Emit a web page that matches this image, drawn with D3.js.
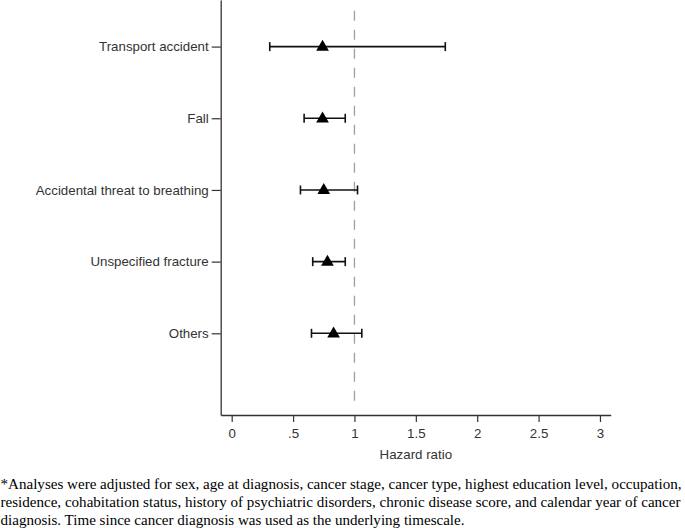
<!DOCTYPE html>
<html><head><meta charset="utf-8">
<script src="https://cdn.jsdelivr.net/npm/d3@7"></script>
<style>body{margin:0;background:#fff}svg{display:block}</style>
</head><body>
<svg id="c" width="685" height="528"></svg>
<script>
const categories = ["Transport accident","Fall","Accidental threat to breathing","Unspecified fracture","Others"];
const hr    = [0.74, 0.74, 0.75, 0.78, 0.83];
const lower = [0.31, 0.59, 0.56, 0.66, 0.65];
const upper = [1.74, 0.925, 1.025, 0.925, 1.06];
const xTicks = [0, 0.5, 1, 1.5, 2, 2.5, 3];
const xTickLabels = ["0", ".5", "1", "1.5", "2", "2.5", "3"];
const refLine = 1;
const xTitle = "Hazard ratio";
const footnote = [
 "*Analyses were adjusted for sex, age at diagnosis, cancer stage, cancer type, highest education level, occupation,",
 "residence, cohabitation status, history of psychiatric disorders, chronic disease score, and calendar year of cancer",
 "diagnosis. Time since cancer diagnosis was used as the underlying timescale."
];

const svg = d3.select("#c");
const axisColor = "#333";
const sans = "Liberation Sans, Arial, sans-serif";
const x = d3.scaleLinear().domain([-0.0896, 3.0875]).range([220.7, 610.7]);
const y = d3.scaleLinear().domain([0.35, 6.14]).range([0, 415]);
const rows = categories.map((c,i)=>({c, i:i+1, hr:hr[i], lo:lower[i], hi:upper[i]}));

// reference line
svg.append("line")
  .attr("x1", x(refLine)).attr("x2", x(refLine))
  .attr("y1", y(0.5)).attr("y2", y(6.0))
  .attr("stroke", "#a0a0a0").attr("stroke-width", 1.3)
  .attr("stroke-dasharray", "10,9");

// x axis
const xAxis = d3.axisBottom(x).tickValues(xTicks)
  .tickFormat((d,i)=>xTickLabels[i]).tickSizeInner(7).tickSizeOuter(0).tickPadding(7);
const gx = svg.append("g").attr("transform", `translate(0,${y(6.14)})`).call(xAxis);
gx.select(".domain").attr("stroke", axisColor).attr("stroke-width", 1.3);
gx.selectAll(".tick line").attr("stroke", axisColor).attr("stroke-width", 1.2);
gx.selectAll(".tick text").attr("fill", "#333").style("font-family", sans).style("font-size", "13.3px");

// y axis
const yAxis = d3.axisLeft(y).tickValues(rows.map(r=>r.i))
  .tickFormat(d=>categories[d-1]).tickSizeInner(9).tickSizeOuter(0).tickPadding(3);
const gy = svg.append("g").attr("transform", `translate(${x(-0.0896)},0)`).call(yAxis);
gy.select(".domain").attr("stroke", axisColor).attr("stroke-width", 1.3);
gy.selectAll(".tick line").attr("stroke", axisColor).attr("stroke-width", 1.2);
gy.selectAll(".tick text").attr("fill", "#333").style("font-family", sans).style("font-size", "13.3px");

// x title
svg.append("text").attr("x", x(1.5)).attr("y", 458.5).attr("text-anchor", "middle")
  .attr("fill", "#333").style("font-family", sans).style("font-size", "13.3px")
  .text(xTitle);

// CIs
const g = svg.append("g");
g.selectAll("line.ci").data(rows).join("line").attr("class","ci")
  .attr("x1", d=>x(d.lo)).attr("x2", d=>x(d.hi)).attr("y1", d=>y(d.i)).attr("y2", d=>y(d.i))
  .attr("stroke", "#111").attr("stroke-width", 1.6);
g.selectAll("line.capl").data(rows).join("line").attr("class","capl")
  .attr("x1", d=>x(d.lo)).attr("x2", d=>x(d.lo)).attr("y1", d=>y(d.i)-4.5).attr("y2", d=>y(d.i)+4.5)
  .attr("stroke", "#111").attr("stroke-width", 1.6);
g.selectAll("line.caph").data(rows).join("line").attr("class","caph")
  .attr("x1", d=>x(d.hi)).attr("x2", d=>x(d.hi)).attr("y1", d=>y(d.i)-4.5).attr("y2", d=>y(d.i)+4.5)
  .attr("stroke", "#111").attr("stroke-width", 1.6);
const tri = d3.symbol().type(d3.symbolTriangle).size(70);
g.selectAll("path.pt").data(rows).join("path").attr("class","pt")
  .attr("d", tri).attr("transform", d=>`translate(${x(d.hr)},${y(d.i)+0.5})`).attr("fill", "#000");

// footnote
const fnLens = [681, 680, 464];
svg.append("g").selectAll("text").data(footnote).join("text")
  .attr("x", 0.5).attr("y", (d,i)=>489 + i*17.8)
  .attr("textLength", (d,i)=>fnLens[i]).attr("lengthAdjust", "spacingAndGlyphs")
  .attr("fill", "#000").style("font-family", "Liberation Serif, Times New Roman, serif").style("font-size", "14px")
  .text(d=>d);
</script>
</body></html>
